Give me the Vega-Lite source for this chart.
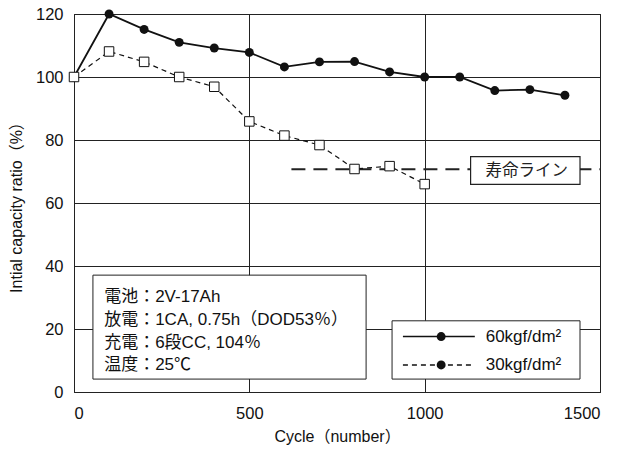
{
  "$schema": "https://vega.github.io/schema/vega-lite/v6.json",
  "width": 526,
  "height": 378,
  "autosize": {"type": "none"},
  "padding": {"left": 74, "top": 14, "right": 21, "bottom": 60},
  "background": "white",
  "config": {
    "view": {"stroke": "black", "strokeWidth": 1},
    "font": "Liberation Sans, Noto Sans CJK JP",
    "axis": {
      "domain": false,
      "ticks": false,
      "grid": true,
      "gridColor": "#222",
      "gridOpacity": 1,
      "gridWidth": 1,
      "labelFont": "Liberation Sans",
      "labelFontSize": 16.5,
      "labelColor": "#111",
      "titleFont": "Liberation Sans, Noto Sans CJK JP",
      "titleFontSize": 16,
      "titleFontWeight": "normal",
      "titleColor": "#111"
    }
  },
  "datasets": {
    "s60": [
      {"x": 0, "y": 100}, {"x": 100, "y": 120}, {"x": 200, "y": 115.1}, {"x": 300, "y": 111.0},
      {"x": 400, "y": 109.2}, {"x": 500, "y": 107.8}, {"x": 600, "y": 103.2}, {"x": 700, "y": 104.8},
      {"x": 800, "y": 104.9}, {"x": 900, "y": 101.6}, {"x": 1000, "y": 100}, {"x": 1100, "y": 100},
      {"x": 1200, "y": 95.7}, {"x": 1300, "y": 96.0}, {"x": 1400, "y": 94.2}
    ],
    "s30": [
      {"x": 0, "y": 100}, {"x": 100, "y": 108.1}, {"x": 200, "y": 104.8}, {"x": 300, "y": 100},
      {"x": 400, "y": 96.9}, {"x": 500, "y": 85.9}, {"x": 600, "y": 81.4}, {"x": 700, "y": 78.4},
      {"x": 800, "y": 70.8}, {"x": 900, "y": 71.7}, {"x": 1000, "y": 66.0}
    ],
    "lifeLine": [{"x": 620, "x2": 1500, "y": 70.7}],
    "lifeBox": [{"x": 1131, "x2": 1443, "y": 74.7, "y2": 65.9, "label": "寿命ライン", "cx": 1291}],
    "noteBox": [{"x": 54, "x2": 833, "y": 37.1, "y2": 4.1}],
    "noteText": [
      {"x": 86, "y": 30.1, "t": "電池：2V-17Ah"},
      {"x": 86, "y": 22.9, "t": "放電：1CA, 0.75h（DOD53％）"},
      {"x": 86, "y": 15.6, "t": "充電：6段CC, 104％"},
      {"x": 86, "y": 8.6, "t": "温度：25℃"}
    ],
    "legBox": [{"x": 907, "x2": 1443, "y": 22.6, "y2": 4.1}],
    "legLine1": [{"x": 938, "x2": 1143, "y": 17.6}],
    "legLine2": [{"x": 938, "x2": 1143, "y": 8.6}],
    "legPts": [{"x": 1047, "y": 17.6}, {"x": 1047, "y": 8.6}],
    "legText": [
      {"x": 1174, "y": 17.6, "t": "60kgf/dm²"},
      {"x": 1174, "y": 8.6, "t": "30kgf/dm²"}
    ]
  },
  "encoding": {
    "x": {
      "field": "x", "type": "quantitative",
      "scale": {"domain": [0, 1500], "nice": false},
      "axis": {"values": [0, 500, 1000, 1500], "format": "d", "labelPadding": 13, "title": "Cycle（number）", "titlePadding": 7}
    },
    "y": {
      "field": "y", "type": "quantitative",
      "scale": {"domain": [0, 120], "nice": false},
      "axis": {"values": [0, 20, 40, 60, 80, 100, 120], "labelPadding": 11, "title": "Intial capacity ratio（%）", "titlePadding": 11}
    }
  },
  "layer": [
    {
      "data": {"name": "lifeLine"},
      "mark": {"type": "rule", "color": "#222", "strokeWidth": 2, "strokeDash": [14, 8]},
      "encoding": {"x2": {"field": "x2"}}
    },
    {
      "data": {"name": "lifeBox"},
      "mark": {"type": "rect", "fill": "white", "stroke": "#222", "strokeWidth": 1.2},
      "encoding": {"x2": {"field": "x2"}, "y2": {"field": "y2"}}
    },
    {
      "data": {"name": "lifeBox"},
      "mark": {"type": "text", "fontSize": 16.5, "font": "Noto Sans CJK JP", "color": "#222", "align": "center", "baseline": "middle"},
      "encoding": {
        "x": {"field": "cx", "type": "quantitative"},
        "y": {"datum": 70.3, "type": "quantitative"},
        "text": {"field": "label"}
      }
    },
    {
      "data": {"name": "s60"},
      "mark": {"type": "line", "color": "#111", "strokeWidth": 1.8}
    },
    {
      "data": {"name": "s60"},
      "mark": {"type": "point", "shape": "circle", "filled": true, "color": "#111", "size": 80, "opacity": 1}
    },
    {
      "data": {"name": "s30"},
      "mark": {"type": "line", "color": "#111", "strokeWidth": 1.2, "strokeDash": [5, 4]}
    },
    {
      "data": {"name": "s30"},
      "mark": {"type": "point", "shape": "square", "filled": true, "fill": "white", "stroke": "#111", "strokeWidth": 1, "size": 90, "opacity": 1}
    },
    {
      "data": {"name": "noteBox"},
      "mark": {"type": "rect", "fill": "white", "stroke": "#222", "strokeWidth": 1},
      "encoding": {"x2": {"field": "x2"}, "y2": {"field": "y2"}}
    },
    {
      "data": {"name": "noteText"},
      "mark": {"type": "text", "fontSize": 17, "align": "left", "baseline": "middle", "color": "#111", "font": "Liberation Sans, Noto Sans CJK JP"},
      "encoding": {"text": {"field": "t"}}
    },
    {
      "data": {"name": "legBox"},
      "mark": {"type": "rect", "fill": "white", "stroke": "#222", "strokeWidth": 1},
      "encoding": {"x2": {"field": "x2"}, "y2": {"field": "y2"}}
    },
    {
      "data": {"name": "legLine1"},
      "mark": {"type": "rule", "color": "#111", "strokeWidth": 1.5},
      "encoding": {"x2": {"field": "x2"}}
    },
    {
      "data": {"name": "legLine2"},
      "mark": {"type": "rule", "color": "#111", "strokeWidth": 1.5, "strokeDash": [5, 4]},
      "encoding": {"x2": {"field": "x2"}}
    },
    {
      "data": {"name": "legPts"},
      "mark": {"type": "point", "shape": "circle", "filled": true, "color": "#111", "size": 80, "opacity": 1}
    },
    {
      "data": {"name": "legText"},
      "mark": {"type": "text", "fontSize": 17, "align": "left", "baseline": "middle", "color": "#111", "font": "Liberation Sans"},
      "encoding": {"text": {"field": "t"}}
    }
  ]
}
